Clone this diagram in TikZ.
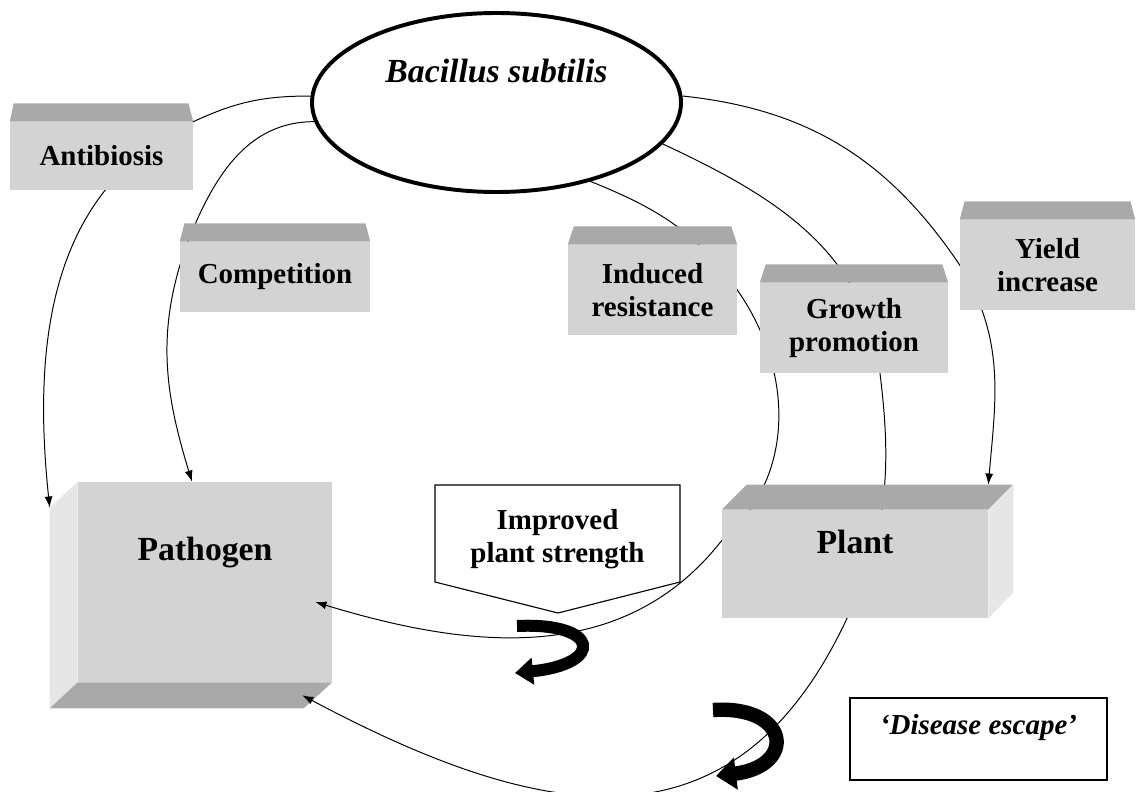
\documentclass[tikz,border=0pt]{standalone}
\usepackage{fontspec}
\setmainfont{Liberation Serif}
\usepackage{xcolor}
\usepackage{tikz}
\usetikzlibrary{shapes.geometric,arrows.meta}
\definecolor{facecolor}{HTML}{D3D3D3}
\definecolor{topcolor}{HTML}{A9A9A9}
\definecolor{sidecolor}{HTML}{E6E6E6}
\pgfdeclarelayer{bottom}
\pgfdeclarelayer{background}
\pgfsetlayers{bottom,background,main}
\tikzset{
  slab/.style={rectangle, fill=facecolor, inner sep=0pt, align=center, font=\bfseries\fontsize{20.6pt}{24pt}\selectfont},
  bigslab/.style={slab, font=\bfseries\fontsize{24pt}{28pt}\selectfont},
  topface/.style={fill=topcolor},
  sideface/.style={fill=sidecolor},
  flow/.style={line width=0.7pt, -{Latex[length=2.8mm,width=2mm]}},
  twist/.style={line width=0.3cm, line cap=butt, -{Triangle[length=0.45cm,width=0.65cm]}}
}

\begin{document}
\begin{tikzpicture}
\useasboundingbox (0,0) rectangle (28.45,-19.8);
% pathogen box lies under the arrow tips
\begin{pgfonlayer}{bottom}
\node[bigslab, minimum width=6.35cm, minimum height=5cm, text depth=1.68cm] (pathogen) at (5.125,-14.55) {Pathogen};
\fill[sideface] (pathogen.north west) -- ++(-0.7,-0.65) -- ++(0,-5) -- (pathogen.south west) -- cycle;
\fill[topface] (pathogen.south west) -- ++(-0.7,-0.65) -- ++(6.35,0) -- (pathogen.south east) -- cycle;
\end{pgfonlayer}
\node[draw, ellipse, line width=2.8pt, fill=white, minimum width=9.225cm, minimum height=4.475cm, text depth=1.6cm, font=\bfseries\itshape\fontsize{24pt}{28pt}\selectfont] (bsub) at (12.4125,-2.5625) {Bacillus subtilis};
\node[slab, minimum width=4.575cm, minimum height=1.7cm] (antib) at (2.5375,-3.9) {Antibiosis};
\fill[topface] (antib.north west) -- ([shift={(0.1,0.46)}]antib.north west) -- ([shift={(-0.12,0.46)}]antib.north east) -- (antib.north east) -- cycle;
\node[slab, minimum width=4.75cm, minimum height=1.75cm] (compet) at (6.875,-6.925) {Competition};
\fill[topface] (compet.north west) -- ([shift={(0.12,0.46)}]compet.north west) -- ([shift={(-0.12,0.46)}]compet.north east) -- (compet.north east) -- cycle;
\node[slab, minimum width=4.225cm, minimum height=2.25cm] (induced) at (16.3125,-7.25) {Induced\\resistance};
\fill[topface] (induced.north west) -- ([shift={(0.15,0.46)}]induced.north west) -- ([shift={(-0.15,0.46)}]induced.north east) -- (induced.north east) -- cycle;
\node[slab, minimum width=4.7cm, minimum height=2.25cm] (growth) at (21.35,-8.2) {Growth\\promotion};
\fill[topface] (growth.north west) -- ([shift={(0.15,0.46)}]growth.north west) -- ([shift={(-0.15,0.46)}]growth.north east) -- (growth.north east) -- cycle;
\node[slab, minimum width=4.375cm, minimum height=2.25cm] (yield) at (26.1875,-6.625) {Yield\\increase};
\fill[topface] (yield.north west) -- ([shift={(0.12,0.46)}]yield.north west) -- ([shift={(-0.12,0.46)}]yield.north east) -- (yield.north east) -- cycle;
\node[bigslab, minimum width=6.65cm, minimum height=2.7cm, text depth=1.1cm] (plant) at (21.375,-14.1) {Plant};
\fill[topface] (plant.north west) -- ++(0.625,0.625) -- ++(6.65,0) -- (plant.north east) -- cycle;
\fill[sideface] (plant.north east) -- ++(0.625,0.625) -- ++(0,-2.7) -- (plant.south east) -- cycle;
\draw[line width=0.8pt, fill=white] (10.875,-12.125) -- (17,-12.125) -- (17,-14.55) -- (13.95,-15.325) -- (10.875,-14.55) -- cycle;
\node[font=\bfseries\fontsize{20.6pt}{23pt}\selectfont, align=center] (strength) at (13.9375,-13.475) {Improved\\plant strength};
\node[draw, line width=0.8pt, rectangle, minimum width=6.425cm, minimum height=2.05cm, text depth=0.75cm, font=\bfseries\itshape\fontsize{20.6pt}{24pt}\selectfont] (escape) at (24.4625,-18.475) {‘Disease escape’};
% arcs run behind the boxes
\begin{pgfonlayer}{background}
\draw[flow] (bsub.178) to[out=180,in=25] (antib.north east) to[out=205,in=96] ([shift={(-0.7,-0.65)}]pathogen.north west);
\draw[flow] (bsub.186) to[out=180,in=68] ([xshift=0.2cm]compet.north west) to[out=250,in=107] ([xshift=-0.325cm]pathogen.north);
\draw[flow] (bsub.-40) to[out=-22,in=125] (induced.east) to[out=-55,in=40] (plant.170) to[out=232,in=-17] ([shift={(-0.425,-0.5)}]pathogen.east);
\draw[flow] (bsub.-14) to[out=-25,in=97] ([xshift=0.65cm]growth.south) to[out=-83,in=65] ([xshift=-0.2cm]plant.south) to[out=245,in=-28,looseness=1.25] ([shift={(-0.75,-0.325)}]pathogen.south east);
\draw[flow] (bsub.2) to[out=-6,in=124] (yield.west) to[out=-58,in=85] ([yshift=0.625cm]plant.north east);
\end{pgfonlayer}
\draw[twist] (12.925,-15.65) .. controls (15,-15.55) and (15.125,-16.6) .. (12.875,-16.825);
\draw[twist, line width=0.36cm, -{Triangle[length=0.5cm,width=0.78cm]}] (17.825,-17.75) .. controls (19.75,-17.625) and (19.925,-19.15) .. (17.9,-19.4);
\end{tikzpicture}
\end{document}
